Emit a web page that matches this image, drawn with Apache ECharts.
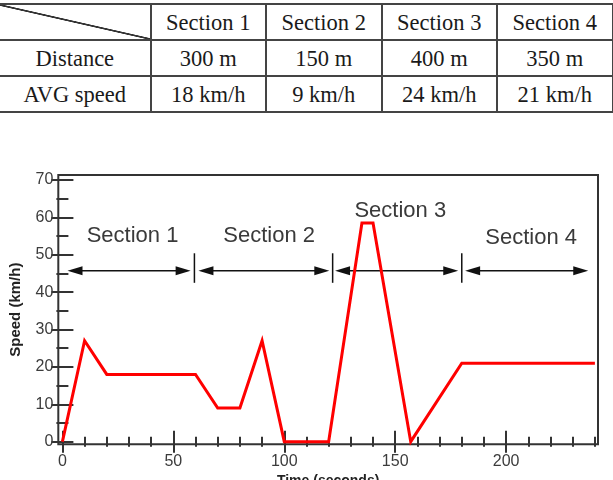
<!DOCTYPE html>
<html>
<head>
<meta charset="utf-8">
<script src="https://cdn.jsdelivr.net/npm/echarts@6.0.0/dist/echarts.min.js"></script>
<style>
  html, body { margin: 0; padding: 0; background: #fff; }
  #chart { position: absolute; left: 0; top: 0; width: 613px; height: 480px; }
  #table {
    position: absolute; left: 0; top: 2.5px; z-index: 2;
    display: grid;
    grid-template-columns: 151.5px 115.5px 115.5px 115.5px 115.5px;
    grid-template-rows: 36px 36px 36px;
    border-top: 2px solid #444;
    background: #fff;
    font-family: "Liberation Serif", serif;
    font-size: 22.5px;
    color: #1a1a1a;
  }
  #table div {
    box-sizing: border-box;
    border-right: 2px solid #444;
    border-bottom: 2px solid #444;
    display: flex; align-items: center; justify-content: center;
    padding-top: 2px;
    white-space: nowrap;
  }
  #table div.corner {
    background: linear-gradient(to top right, transparent calc(50% - 1.2px), #333 calc(50% - 0.6px), #333 calc(50% + 0.6px), transparent calc(50% + 1.2px));
  }
</style>
</head>
<body>
<div id="chart"></div>
<div id="table"></div>
<script>
// table
const sectionNames = ['Section 1', 'Section 2', 'Section 3', 'Section 4'];
const rowNames = ['Distance', 'AVG speed'];
const distances = ['300 m', '150 m', '400 m', '350 m'];
const avgSpeeds = ['18 km/h', '9 km/h', '24 km/h', '21 km/h'];

// speed profile
const timeValues  = [0, 10, 20, 60, 70, 80, 90, 100, 120, 135, 140, 157, 180, 240];
const speedValues = [0, 27, 18, 18,  9,  9, 27,   0,   0, 58.5, 58.5, 0, 21, 21];

// section arrows: start, end, height
const arrowStarts = [2.3, 61.3, 122.9, 181.5];
const arrowEnds   = [57.8, 120.3, 178.4, 237];
const arrowSpeed  = 45.7;
// separators between sections
const sepTimes = [59.5, 121.8, 180];
const sepLow = 42.5;
const sepHigh = 50.4;
// section label positions
const labelTimes  = [31.6, 93.2, 152.3, 211.3];
const labelSpeeds = [55.0, 55.0, 61.6, 54.6];

// ticks
const xMajorTicks = [0, 50, 100, 150, 200];
const xMinorTicks = [10, 20, 30, 40, 60, 70, 80, 90, 110, 120, 130, 140, 160, 170, 180, 190, 210, 220, 230, 240];
const yMajorTicks = [0, 10, 20, 30, 40, 50, 60, 70];
const yMinorTicks = [5, 15, 25, 35, 45, 55, 65];

// build table
const table = document.getElementById('table');
function cell(text, cls) {
  const d = document.createElement('div');
  d.textContent = text;
  if (cls) d.className = cls;
  table.appendChild(d);
}
cell('', 'corner');
sectionNames.forEach(s => cell(s));
cell(rowNames[0]);
distances.forEach(s => cell(s));
cell(rowNames[1]);
avgSpeeds.forEach(s => cell(s));

const chart = echarts.init(document.getElementById('chart'));

const xMin = -1.85, xMax = 241.4, yMin = -0.7, yMax = 71.34;
const tickColor = '#333';
const labelFont = { color: '#3c3c3c', fontSize: 16, fontFamily: 'Liberation Sans' };

function xAxisDef(pos, values, len, withLabel) {
  return {
    type: 'value', gridIndex: 0, position: pos, min: xMin, max: xMax,
    axisLine: { show: false },
    splitLine: { show: false },
    axisTick: { show: true, inside: true, length: len, customValues: values,
      lineStyle: { color: tickColor, width: 2 } },
    axisLabel: withLabel
      ? Object.assign({ show: true, customValues: values, margin: 9 }, labelFont)
      : { show: false }
  };
}
function yAxisDef(pos, values, len, withLabel) {
  return {
    type: 'value', gridIndex: 0, position: pos, min: yMin, max: yMax,
    axisLine: { show: false },
    splitLine: { show: false },
    axisTick: { show: true, inside: true, length: len, customValues: values,
      lineStyle: { color: tickColor, width: 2 } },
    axisLabel: withLabel
      ? Object.assign({ show: true, customValues: values, margin: 5 }, labelFont)
      : { show: false }
  };
}

const xMain = xAxisDef('bottom', xMajorTicks, 11, true);
xMain.name = 'Time (seconds)';
xMain.nameLocation = 'middle';
xMain.nameGap = 24;
xMain.nameTextStyle = { color: '#222', fontSize: 14, fontWeight: 'bold', fontFamily: 'Liberation Sans' };

const yMain = yAxisDef('left', yMajorTicks, 11, true);
yMain.name = 'Speed (km/h)';
yMain.nameLocation = 'middle';
yMain.nameGap = 35;
yMain.nameTextStyle = { color: '#222', fontSize: 15, fontWeight: 'bold', fontFamily: 'Liberation Sans' };

const lineData = timeValues.map((t, i) => [t, speedValues[i]]);
const arrowData = arrowStarts.map((s, i) => [s, arrowEnds[i], arrowSpeed]);
const sepData = sepTimes.map(t => [t, sepLow, sepHigh]);
const labelData = labelTimes.map((t, i) => [t, labelSpeeds[i]]);

const option = {
  animation: false,
  backgroundColor: '#fff',
  grid: {
    left: 58.3, right: 15, top: 175, bottom: 35.7,
    outerBoundsMode: 'none',
    containLabel: false,
    show: true, borderColor: '#333', borderWidth: 2, backgroundColor: 'transparent'
  },
  xAxis: [
    xMain,
    xAxisDef('bottom', xMinorTicks, 5, false),
    xAxisDef('top', xMajorTicks, 11, false),
    xAxisDef('top', xMinorTicks, 5, false)
  ],
  yAxis: [
    yMain,
    yAxisDef('left', yMinorTicks, 6, false),
    yAxisDef('right', yMajorTicks, 11, false),
    yAxisDef('right', yMinorTicks, 6, false)
  ],
  series: [
    {
      type: 'custom', xAxisIndex: 0, yAxisIndex: 0,
      data: arrowData,
      encode: { x: [0, 1], y: 2 },
      renderItem: function (params, api) {
        const a = api.coord([api.value(0), api.value(2)]);
        const b = api.coord([api.value(1), api.value(2)]);
        const L = 15, W = 4.5;
        return {
          type: 'group',
          children: [
            { type: 'line', shape: { x1: a[0] + 4, y1: a[1], x2: b[0] - 4, y2: b[1] },
              style: { stroke: '#111', lineWidth: 1.5 } },
            { type: 'polygon', shape: { points: [[a[0], a[1]], [a[0] + L, a[1] - W], [a[0] + L, a[1] + W]] },
              style: { fill: '#111' } },
            { type: 'polygon', shape: { points: [[b[0], b[1]], [b[0] - L, b[1] - W], [b[0] - L, b[1] + W]] },
              style: { fill: '#111' } }
          ]
        };
      }
    },
    {
      type: 'custom', xAxisIndex: 0, yAxisIndex: 0,
      data: sepData,
      encode: { x: 0, y: [1, 2] },
      renderItem: function (params, api) {
        const p0 = api.coord([api.value(0), api.value(1)]);
        const p1 = api.coord([api.value(0), api.value(2)]);
        return { type: 'line', shape: { x1: p0[0], y1: p0[1], x2: p1[0], y2: p1[1] },
          style: { stroke: '#111', lineWidth: 1.5 } };
      }
    },
    {
      type: 'custom', xAxisIndex: 0, yAxisIndex: 0,
      data: labelData,
      encode: { x: 0, y: 1 },
      renderItem: function (params, api) {
        const p = api.coord([api.value(0), api.value(1)]);
        return {
          type: 'text', x: p[0], y: p[1],
          style: {
            text: sectionNames[params.dataIndex],
            fontSize: 22, fontFamily: 'Liberation Sans',
            fill: '#3a3a3a', align: 'center', verticalAlign: 'middle'
          }
        };
      }
    },
    {
      type: 'line', xAxisIndex: 0, yAxisIndex: 0,
      data: lineData,
      symbol: 'none',
      lineStyle: { color: '#ff0000', width: 3, join: 'miter' },
      z: 5
    }
  ]
};

chart.setOption(option);
</script>
</body>
</html>
